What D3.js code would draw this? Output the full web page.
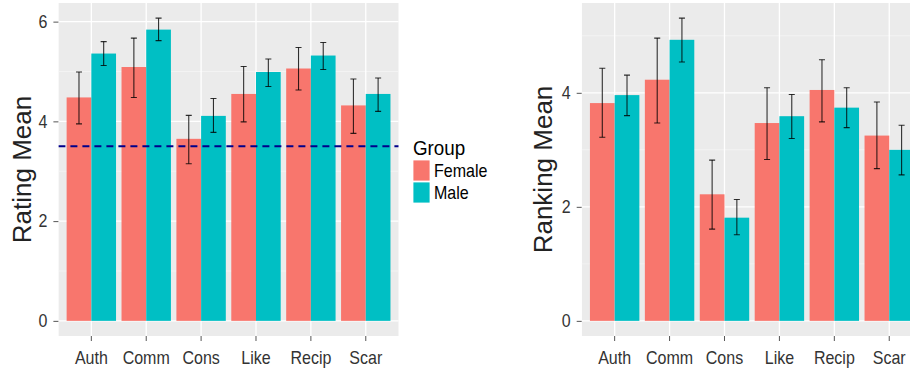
<!DOCTYPE html>
<html>
<head>
<meta charset="utf-8">
<script src="https://cdn.jsdelivr.net/npm/d3@7"></script>
<style>
  body { margin: 0; background: #fff; }
  svg text { font-family: "Liberation Sans", Arial, sans-serif; }
</style>
</head>
<body>
<svg id="chart"></svg>
<script>
// categories and groups
const categories = ["Auth", "Comm", "Cons", "Like", "Recip", "Scar"];
const groups = ["Female", "Male"];
const groupColors = ["#F8766D", "#00BFC4"];

// rating panel (mean, lower, upper) per group
const ratingFemale = [4.48, 5.09, 3.65, 4.55, 5.06, 4.32];
const ratingFemaleLo = [3.95, 4.48, 3.15, 3.99, 4.63, 3.76];
const ratingFemaleHi = [4.99, 5.67, 4.12, 5.10, 5.48, 4.85];
const ratingMale = [5.36, 5.84, 4.11, 4.99, 5.32, 4.55];
const ratingMaleLo = [5.12, 5.62, 3.78, 4.70, 5.04, 4.20];
const ratingMaleHi = [5.60, 6.07, 4.46, 5.25, 5.58, 4.87];
const ratingRef = 3.5;
const ratingTicks = [0, 2, 4, 6];

// ranking panel
const rankFemale = [3.82, 4.23, 2.22, 3.47, 4.05, 3.25];
const rankFemaleLo = [3.22, 3.47, 1.61, 2.83, 3.49, 2.67];
const rankFemaleHi = [4.43, 4.96, 2.82, 4.09, 4.58, 3.84];
const rankMale = [3.96, 4.93, 1.81, 3.59, 3.74, 3.00];
const rankMaleLo = [3.60, 4.54, 1.51, 3.20, 3.39, 2.56];
const rankMaleHi = [4.31, 5.31, 2.13, 3.97, 4.09, 3.43];
const rankTicks = [0, 2, 4];

const W = 910, H = 374;
const SQ = 0.89; // the original's text is a little narrow
const svg = d3.select("#chart").attr("width", W).attr("height", H);

function buildRows(means, los, his) {
    let rows = [];
    categories.forEach((c, i) => {
        groups.forEach((g, j) => {
            rows.push({cat: c, group: g, gi: j, mean: means[j][i], lo: los[j][i], hi: his[j][i]});
        });
    });
    return rows;
}

function drawPanel(cfg) {
    const rows = buildRows(cfg.means, cfg.los, cfg.his);
    const g = svg.append("g");

    // clip so the right panel is cut at the window edge like the original
    const clipId = "clip" + cfg.id;
    svg.append("clipPath").attr("id", clipId)
        .append("rect").attr("x", cfg.left).attr("y", cfg.top)
        .attr("width", cfg.right - cfg.left).attr("height", cfg.bottom - cfg.top);

    const x = d3.scaleBand().domain(categories)
        .range([cfg.left, cfg.right]).paddingInner(0).paddingOuter(0.1);
    const xg = d3.scaleBand().domain(groups).range([0.05 * x.step(), 0.95 * x.step()]);

    const maxV = d3.max(rows, d => d.hi);
    const pad = maxV * 0.05;
    const y = d3.scaleLinear().domain([-pad, maxV + pad]).range([cfg.bottom, cfg.top]);

    const plot = g.append("g").attr("clip-path", `url(#${clipId})`);
    plot.append("rect")
        .attr("x", cfg.left).attr("y", cfg.top)
        .attr("width", cfg.right - cfg.left).attr("height", cfg.bottom - cfg.top)
        .attr("fill", "#EBEBEB");

    // minor grid
    const minor = d3.range(1, Math.ceil(maxV + pad), 2);
    plot.selectAll(".minor").data(minor).join("line")
        .attr("x1", cfg.left).attr("x2", cfg.right)
        .attr("y1", d => y(d)).attr("y2", d => y(d))
        .attr("stroke", "#F5F5F5").attr("stroke-width", 0.8);
    // major grid
    plot.selectAll(".major").data(cfg.ticks).join("line")
        .attr("x1", cfg.left).attr("x2", cfg.right)
        .attr("y1", d => y(d)).attr("y2", d => y(d))
        .attr("stroke", "#fff").attr("stroke-width", 1.3);
    plot.selectAll(".vgrid").data(categories).join("line")
        .attr("x1", d => x(d) + x.step() / 2).attr("x2", d => x(d) + x.step() / 2)
        .attr("y1", cfg.top).attr("y2", cfg.bottom)
        .attr("stroke", "#fff").attr("stroke-width", 1.3);

    // bars
    plot.selectAll(".bar").data(rows).join("rect")
        .attr("x", d => x(d.cat) + xg(d.group))
        .attr("y", d => y(d.mean))
        .attr("width", xg.bandwidth())
        .attr("height", d => y(0) - y(d.mean))
        .attr("fill", d => groupColors[d.gi]);

    // error bars
    const cap = x.step() * 0.055;
    const cx = d => x(d.cat) + xg(d.group) + xg.bandwidth() / 2;
    const eb = plot.selectAll(".eb").data(rows).join("g")
        .attr("stroke", "#000").attr("stroke-opacity", 0.8).attr("stroke-width", 1.1);
    eb.append("line")
        .attr("x1", cx).attr("x2", cx)
        .attr("y1", d => y(d.lo)).attr("y2", d => y(d.hi));
    eb.append("line")
        .attr("x1", d => cx(d) - cap).attr("x2", d => cx(d) + cap)
        .attr("y1", d => y(d.lo)).attr("y2", d => y(d.lo));
    eb.append("line")
        .attr("x1", d => cx(d) - cap).attr("x2", d => cx(d) + cap)
        .attr("y1", d => y(d.hi)).attr("y2", d => y(d.hi));

    if (cfg.refLine != null) {
        plot.append("line")
            .attr("x1", cfg.left).attr("x2", cfg.right)
            .attr("y1", y(cfg.refLine)).attr("y2", y(cfg.refLine))
            .attr("stroke", "#00008B").attr("stroke-width", 2)
            .attr("stroke-dasharray", "7,5");
    }

    // y axis
    const yAxis = g.append("g").attr("transform", `translate(${cfg.left},0)`)
        .call(d3.axisLeft(y).tickValues(cfg.ticks).tickFormat(d3.format("d")).tickSize(5).tickPadding(6));
    yAxis.select(".domain").remove();
    yAxis.selectAll(".tick line").attr("stroke", "#555");
    yAxis.selectAll(".tick text").attr("fill", "#333").style("font-size", "18px")
        .attr("x", -11 / SQ).attr("transform", `scale(${SQ},1)`);

    // x axis
    const xAxis = g.append("g").attr("transform", `translate(0,${cfg.bottom})`)
        .call(d3.axisBottom(x).tickSize(5).tickPadding(10));
    xAxis.select(".domain").remove();
    xAxis.selectAll(".tick line").attr("stroke", "#555");
    xAxis.selectAll(".tick text").attr("fill", "#333").style("font-size", "18px")
        .attr("transform", `scale(${SQ},1)`);

    // y title
    g.append("text")
        .attr("transform", `translate(${cfg.titleX},${(cfg.top + cfg.bottom) / 2}) rotate(-90)`)
        .attr("text-anchor", "middle")
        .attr("dominant-baseline", "central")
        .attr("fill", "#222")
        .style("font-size", "26px")
        .text(cfg.title);
}

drawPanel({
    id: 1, left: 58.4, right: 398.7, top: 3, bottom: 336,
    means: [ratingFemale, ratingMale], los: [ratingFemaleLo, ratingMaleLo], his: [ratingFemaleHi, ratingMaleHi],
    ticks: ratingTicks, refLine: ratingRef, title: "Rating Mean", titleX: 22
});

drawPanel({
    id: 2, left: 581.7, right: 922.2, top: 3, bottom: 336,
    means: [rankFemale, rankMale], los: [rankFemaleLo, rankMaleLo], his: [rankFemaleHi, rankMaleHi],
    ticks: rankTicks, refLine: null, title: "Ranking Mean", titleX: 543
});

// legend
const legend = svg.append("g").attr("transform", "translate(413,0)");
legend.append("text").attr("x", 0).attr("y", 155)
    .attr("fill", "#000").style("font-size", "20px")
    .attr("transform", `scale(${SQ + 0.05},1)`).text("Group");
legend.selectAll(".sw").data(groups).join("rect")
    .attr("x", 0).attr("y", (d, i) => 160 + i * 22)
    .attr("width", 17).attr("height", 21)
    .attr("fill", (d, i) => groupColors[i])
    .attr("stroke", "#fff").attr("stroke-width", 0.8);
legend.selectAll(".lb").data(groups).join("text")
    .attr("x", 21 / SQ).attr("y", (d, i) => 171 + i * 22)
    .attr("dominant-baseline", "central")
    .attr("fill", "#000").style("font-size", "18px")
    .attr("transform", `scale(${SQ},1)`)
    .text(d => d);
</script>
</body>
</html>
